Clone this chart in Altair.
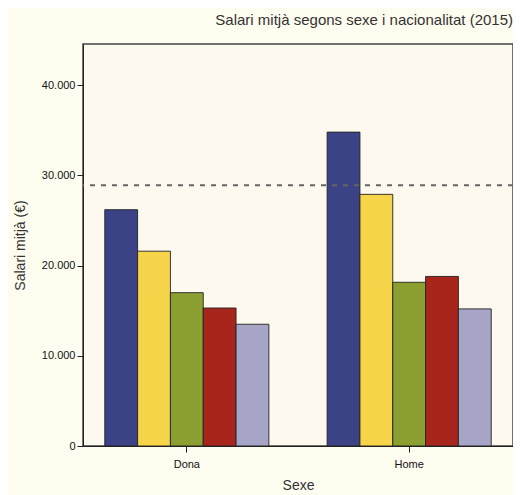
import altair as alt
import pandas as pd

sexes = ["Dona", "Home"]
nationalities = ["Espanyola", "Unió Europea", "Resta d'Europa", "Amèrica", "Àfrica i Àsia"]
salary_dona = [26200, 21600, 17000, 15300, 13500]
salary_home = [34800, 27900, 18150, 18800, 15200]
overall_mean = [28900]
colors = ["#3B4286", "#F7D54A", "#8BA030", "#A8251C", "#A7A5C5"]

rows = []
for s, vals in zip(sexes, [salary_dona, salary_home]):
    for n, v in zip(nationalities, vals):
        rows.append({"Sexe": s, "Nacionalitat": n, "Salari": v})
df = pd.DataFrame(rows)
mean_df = pd.DataFrame({"mitja": overall_mean})

yscale = alt.Scale(domain=[0, 44570], nice=False, zero=True)

bars = alt.Chart(df).mark_bar(stroke="#222222", strokeWidth=1, strokeOpacity=0.9).encode(
    x=alt.X("Sexe:N", sort=sexes,
            scale=alt.Scale(paddingInner=0.262, paddingOuter=0.098),
            axis=alt.Axis(title="Sexe", labelAngle=0, tickSize=6, labelPadding=6,
                          labelFontSize=11, labelColor="#111111", titleFontSize=14,
                          titleFontWeight="normal", titleColor="#333333", titlePadding=9,
                          domainColor="#222222", tickColor="#222222", labelFont="Liberation Sans",
                          titleFont="Liberation Sans")),
    xOffset=alt.XOffset("Nacionalitat:N", sort=nationalities,
                        scale=alt.Scale(paddingInner=0, paddingOuter=0)),
    y=alt.Y("Salari:Q", scale=yscale,
            axis=alt.Axis(title="Salari mitjà (€)", values=[0, 10000, 20000, 30000, 40000],
                          labelExpr="replace(format(datum.value, ','), ',', '.')",
                          grid=False, tickSize=6, labelPadding=2, labelFontSize=11,
                          labelColor="#111111", titleFontSize=14, titleFontWeight="normal",
                          titleColor="#333333", titlePadding=14, domainColor="#222222",
                          tickColor="#222222", labelFont="Liberation Sans",
                          titleFont="Liberation Sans")),
    color=alt.Color("Nacionalitat:N", sort=nationalities,
                    scale=alt.Scale(domain=nationalities, range=colors), legend=None),
)

rule = alt.Chart(mean_df).mark_rule(color="#666666", strokeWidth=2, strokeDash=[5, 6]).encode(
    y=alt.Y("mitja:Q", scale=yscale)
)

chart = alt.layer(bars, rule).properties(
    width=430,
    height=402,
    background="#FFFCF0",
    padding={"left": 75, "top": 36, "right": 0, "bottom": 49},
    autosize=alt.AutoSizeParams(type="none"),
    title=alt.TitleParams("Salari mitjà segons sexe i nacionalitat (2015)", anchor="end",
                          frame="group", fontSize=15, fontWeight="normal", color="#333333",
                          font="Liberation Sans", offset=16),
).configure_view(fill="#FDF9EE", stroke="#444444", strokeWidth=1.5)

chart.save("out.html", embed_options={"renderer": "svg", "actions": False})
